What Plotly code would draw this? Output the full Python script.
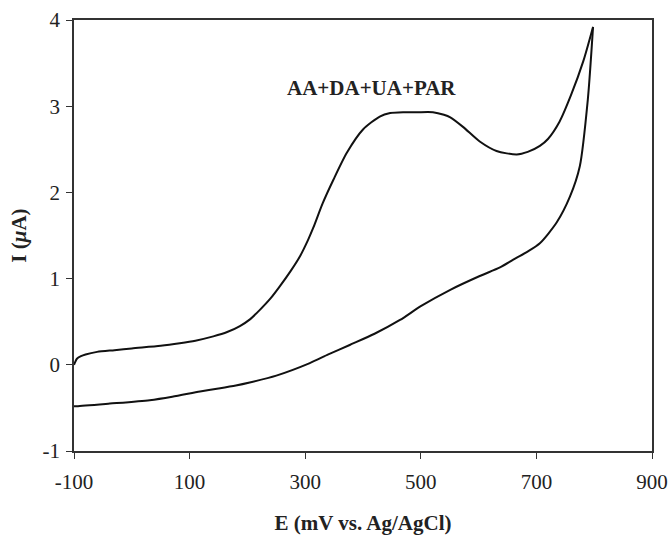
import plotly.graph_objects as go

# Forward (anodic) scan
fwd_E = [-100, -95, -88, -80, -60, -30, 0, 50, 83, 110, 141, 165, 187, 205, 222, 240, 256, 275,
         291, 305, 314, 330, 349, 372, 400, 429, 447, 470, 493, 521, 540, 551, 573, 602, 631,
         666, 685, 706, 720, 740, 760, 781, 798]
fwd_I = [0.0, 0.07, 0.10, 0.12, 0.15, 0.17, 0.19, 0.22, 0.25, 0.28, 0.33, 0.38, 0.45, 0.53, 0.64,
         0.77, 0.91, 1.09, 1.26, 1.45, 1.59, 1.87, 2.15, 2.46, 2.73, 2.88, 2.92, 2.93, 2.93,
         2.93, 2.90, 2.87, 2.76, 2.59, 2.48, 2.44, 2.47, 2.54, 2.62, 2.82, 3.13, 3.52, 3.92]
# Reverse (cathodic) scan
rev_E = [798, 789, 775, 758, 735, 706, 684, 660, 637, 602, 551, 500, 464, 420, 377,
         340, 308, 250, 204, 180, 150, 118, 70, 31, -38, -95, -100]
rev_I = [3.92, 3.08, 2.30, 1.95, 1.65, 1.41, 1.31, 1.22, 1.13, 1.03, 0.87, 0.68,
         0.52, 0.36, 0.23, 0.12, 0.02, -0.125, -0.205, -0.24, -0.275, -0.31, -0.37, -0.41,
         -0.45, -0.48, -0.48]

x_ticks = [-100, 100, 300, 500, 700, 900]
y_ticks = [-1, 0, 1, 2, 3, 4]
label = "AA+DA+UA+PAR"

FONT = "Liberation Serif, Times New Roman, serif"

fig = go.Figure()
for xs, ys in ((fwd_E, fwd_I), (rev_E, rev_I)):
    fig.add_trace(go.Scatter(x=xs, y=ys, mode="lines",
                             line=dict(color="#111111", width=2, shape="spline", smoothing=0.7),
                             showlegend=False))

fig.add_annotation(x=414, y=3.21, text="<b>" + label + "</b>", showarrow=False,
                   font=dict(family=FONT, size=21, color="#222222"))

axis_common = dict(showline=True, linecolor="#333333", linewidth=1.5, mirror=True,
                   ticks="outside", ticklen=6, tickwidth=1.2, tickcolor="#333333",
                   showgrid=False, zeroline=False, automargin=False,
                   tickfont=dict(family=FONT, size=21, color="#222222"))

fig.update_xaxes(range=[-100, 900], tickvals=x_ticks, ticktext=[str(v) for v in x_ticks],
                 ticklabelstandoff=5,
                 title=dict(text="<b>E (mV vs. Ag/AgCl)</b>", standoff=22,
                            font=dict(family=FONT, size=21, color="#222222")),
                 **axis_common)
fig.update_yaxes(range=[-1, 4], tickvals=y_ticks, ticktext=[str(v) for v in y_ticks],
                 ticklabelstandoff=2,
                 title=dict(text="<b>I (<i>μ</i>A)</b>", standoff=10,
                            font=dict(family=FONT, size=21, color="#222222")),
                 **axis_common)

fig.update_layout(width=670, height=536, plot_bgcolor="white", paper_bgcolor="white",
                  margin=dict(l=74, r=18, t=20, b=85))

fig.write_html("out.html")
